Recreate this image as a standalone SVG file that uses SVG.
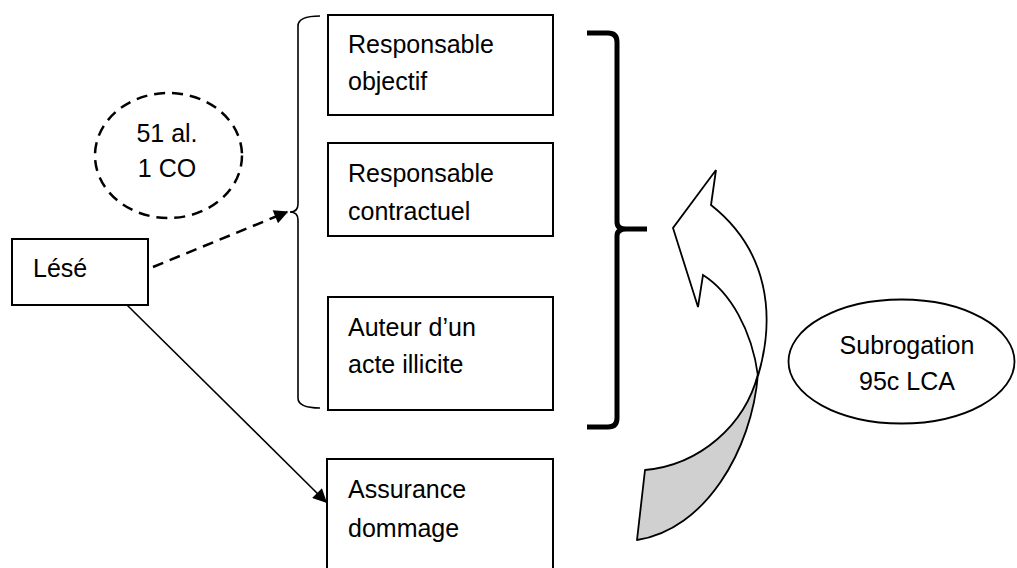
<svg xmlns="http://www.w3.org/2000/svg" width="1017" height="568" viewBox="0 0 1017 568">
  <style>
    .box { fill: #ffffff; stroke: #000000; stroke-width: 2; }
    .lbl { font-family: "Liberation Sans", Arial, sans-serif; font-size: 25px; fill: #000000; }
    .mid { text-anchor: middle; }
    .dash { fill: none; stroke: #000000; stroke-width: 2.5; stroke-dasharray: 11 7; }
    .thin { fill: none; stroke: #000000; stroke-width: 1.6; }
  </style>
  <defs>
    <marker id="head" viewBox="0 0 10 10" refX="9" refY="5" markerWidth="16" markerHeight="14" markerUnits="userSpaceOnUse" orient="auto">
      <path d="M0,0 L10,5 L0,10 Z" fill="#000000"/>
    </marker>
  </defs>
  <rect width="1017" height="568" fill="#ffffff"/>

  <!-- thin brace grouping the three liable parties -->
  <g id="brace-left">
    <path class="thin" stroke="#333" d="M320,16 Q298,16 298,26 L298,204 Q298,212 290,212 Q298,212 298,220 L298,398 Q298,408 320,408"/>
  </g>

  <!-- thick bracket on the right -->
  <g id="brace-right">
    <path d="M587,33 L608,33 Q617,33 617,42 L617,222 Q617,229 626,229 L647,229 M626,229 Q617,229 617,236 L617,418 Q617,427 608,427 L587,427" fill="none" stroke="#000000" stroke-width="5"/>
  </g>

  <!-- connectors -->
  <g id="connectors">
    <path class="dash" d="M153,267 L287,212" marker-end="url(#head)"/>
    <path d="M127,305 L326,502" fill="none" stroke="#000000" stroke-width="1.6" marker-end="url(#head)"/>
  </g>

  <g id="n-cercle">
    <ellipse class="dash" cx="168.5" cy="155.5" rx="73.5" ry="62.5"/>
    <text class="lbl mid" x="167" y="142">51 al.</text>
    <text class="lbl mid" x="167" y="177">1 CO</text>
  </g>

  <g id="n-lese">
    <rect class="box" x="12" y="239" width="136" height="66"/>
    <text class="lbl" x="33" y="277">Lésé</text>
  </g>

  <g id="n-objectif">
    <rect class="box" x="328" y="15" width="225" height="100"/>
    <text class="lbl" x="348" y="53">Responsable</text>
    <text class="lbl" x="348" y="90">objectif</text>
  </g>

  <g id="n-contractuel">
    <rect class="box" x="328" y="143" width="225" height="93"/>
    <text class="lbl" x="348" y="182">Responsable</text>
    <text class="lbl" x="348" y="220">contractuel</text>
  </g>

  <g id="n-illicite">
    <rect class="box" x="328" y="297" width="225" height="113"/>
    <text class="lbl" x="348" y="336">Auteur d’un</text>
    <text class="lbl" x="348" y="373">acte illicite</text>
  </g>

  <g id="n-assurance">
    <rect class="box" x="327" y="459" width="226" height="120"/>
    <text class="lbl" x="348" y="498">Assurance</text>
    <text class="lbl" x="348" y="537">dommage</text>
  </g>

  <!-- curved arrow of subrogation -->
  <g id="n-fleche">
    <path d="M645,470 C700,465 745,425 758,374 C752,450 705,530 637,540 Z" fill="#d0d0d0" stroke="#000000" stroke-width="1.8" stroke-linejoin="round"/>
    <path d="M711,205 L716,170 L673,228 L698,307 L703,275 C730,292 752,330 758,376 C776,315 768,250 711,205 Z" fill="#ffffff" stroke="#000000" stroke-width="1.8" stroke-linejoin="miter"/>
  </g>

  <g id="n-subrogation">
    <ellipse cx="901.5" cy="361.5" rx="113" ry="62" fill="#ffffff" stroke="#000000" stroke-width="1.8"/>
    <text class="lbl mid" x="907" y="354">Subrogation</text>
    <text class="lbl mid" x="907" y="390">95c LCA</text>
  </g>
</svg>
